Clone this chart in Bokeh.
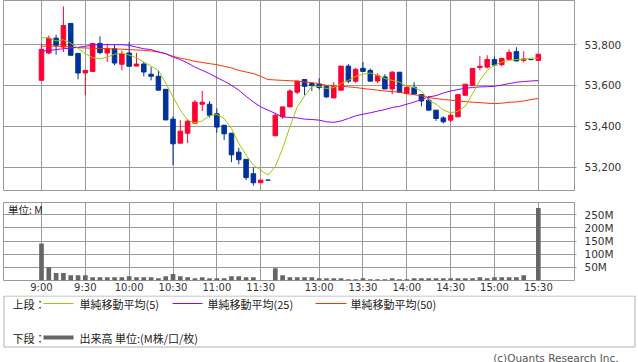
from bokeh.plotting import figure
from bokeh.layouts import column
from bokeh.models import FixedTicker, NumeralTickFormatter, Range1d, ColumnDataSource, BoxAnnotation
from bokeh.core.properties import value
from bokeh.embed import file_html
from bokeh.resources import INLINE

# ---------------- data ----------------
time_ticks = [0, 6, 12, 18, 24, 30, 38, 44, 50, 56, 62, 68]
time_labels = ["9:00", "9:30", "10:00", "10:30", "11:00", "11:30",
               "13:00", "13:30", "14:00", "14:30", "15:00", "15:30"]
price_ticks = [53200, 53400, 53600, 53800]
volume_ticks = [50, 100, 150, 200, 250]
volume_tick_labels = ["50M", "100M", "150M", "200M", "250M"]

opens = [53625, 53759, 53832, 53788, 53904, 53757, 53661, 53669, 53806, 53759,
         53780, 53704, 53759, 53695, 53705, 53655, 53645, 53581, 53435, 53317,
         53366, 53415, 53508, 53508, 53461, 53405, 53366, 53273, 53238, 53167,
         53123, 53136, 53353, 53446, 53495, 53567, 53629, 53609, 53606, 53596,
         53539, 53577, 53695, 53621, 53684, 53674, 53622, 53642, 53583, 53665,
         53560, 53591, 53555, 53528, 53479, 53441, 53430, 53446, 53552, 53601,
         53688, 53690, 53727, 53702, 53728, 53766, 53723, 53727, 53723]
highs = [53805, 53845, 53849, 53987, 53904, 53757, 53674, 53806, 53841, 53805,
         53800, 53772, 53813, 53759, 53715, 53690, 53674, 53581, 53449, 53430,
         53433, 53529, 53573, 53523, 53488, 53405, 53366, 53294, 53238, 53199,
         53136, 53136, 53466, 53495, 53581, 53621, 53629, 53617, 53635, 53596,
         53617, 53695, 53705, 53686, 53715, 53683, 53660, 53655, 53671, 53665,
         53601, 53616, 53555, 53549, 53479, 53449, 53463, 53555, 53606, 53684,
         53744, 53748, 53743, 53736, 53777, 53787, 53767, 53727, 53753]
lows = [53625, 53753, 53751, 53764, 53748, 53630, 53552, 53665, 53753, 53715,
        53699, 53674, 53694, 53695, 53645, 53625, 53577, 53431, 53210, 53317,
        53317, 53415, 53474, 53443, 53368, 53332, 53224, 53213, 53136, 53109,
        53123, 53136, 53353, 53436, 53495, 53557, 53552, 53573, 53580, 53539,
        53539, 53577, 53612, 53612, 53669, 53621, 53612, 53583, 53558, 53567,
        53560, 53558, 53498, 53479, 53426, 53414, 53421, 53446, 53552, 53601,
        53674, 53683, 53700, 53694, 53728, 53720, 53713, 53727, 53723]
closes = [53777, 53832, 53797, 53894, 53748, 53661, 53674, 53806, 53761, 53780,
          53710, 53756, 53694, 53705, 53666, 53645, 53577, 53431, 53314, 53376,
          53425, 53518, 53518, 53454, 53396, 53363, 53260, 53236, 53148, 53123,
          53136, 53136, 53454, 53495, 53573, 53621, 53596, 53600, 53590, 53544,
          53596, 53695, 53621, 53679, 53669, 53621, 53648, 53583, 53665, 53567,
          53591, 53558, 53524, 53479, 53438, 53422, 53454, 53555, 53606, 53684,
          53694, 53727, 53700, 53732, 53762, 53720, 53730, 53727, 53753]

ma5 = [53834, 53834, 53818, 53824, 53808, 53783, 53756, 53736, 53731, 53739,
       53753, 53759, 53749, 53736, 53715, 53695, 53674, 53612, 53544, 53479,
       53430, 53417, 53426, 53451, 53458, 53438, 53389, 53316, 53259, 53210,
       53185, 53161, 53202, 53291, 53397, 53495, 53548, 53596, 53596, 53585,
       53590, 53609, 53625, 53645, 53655, 53661, 53650, 53634, 53625, 53616,
       53596, 53590, 53573, 53528, 53508, 53479, 53466, 53474, 53498, 53560,
       53625, 53674, 53699, 53715, 53723, 53727, 53729, 53734, 53734]
ma25 = [53769, 53771, 53776, 53780, 53783, 53787, 53792, 53797, 53800, 53800,
        53800, 53800, 53797, 53788, 53780, 53776, 53764, 53756, 53739, 53727,
        53710, 53690, 53674, 53658, 53639, 53621, 53601, 53577, 53547, 53519,
        53495, 53479, 53463, 53446, 53443, 53441, 53435, 53433, 53430, 53422,
        53419, 53426, 53438, 53451, 53459, 53466, 53474, 53482, 53492, 53498,
        53508, 53519, 53531, 53544, 53550, 53563, 53573, 53580, 53586, 53590,
        53593, 53594, 53596, 53602, 53609, 53616, 53619, 53622, 53624]
ma50 = [53793, 53793, 53792, 53792, 53788, 53785, 53784, 53782, 53782, 53780,
        53779, 53778, 53776, 53774, 53772, 53769, 53764, 53756, 53743, 53734,
        53727, 53718, 53713, 53707, 53702, 53694, 53686, 53674, 53666, 53658,
        53645, 53629, 53627, 53625, 53623, 53622, 53617, 53614, 53609, 53601,
        53598, 53597, 53593, 53590, 53585, 53581, 53577, 53573, 53570, 53567,
        53560, 53555, 53549, 53541, 53536, 53531, 53528, 53524, 53521, 53518,
        53516, 53513, 53511, 53513, 53518, 53519, 53524, 53531, 53536]

volumes = [141, 50, 28.6, 28.6, 20, 20, 20, 12.5, 12.5, 12.5,
           12.5, 12.5, 16, 12.5, 12.5, 12.5, 8.6, 16, 25, 16,
           12.5, 8.6, 12.5, 8.6, 8.6, 8.6, 16, 16, 12.5, 12.5,
           1, 0, 47, 20, 12.5, 12.5, 12.5, 12.5, 8.6, 8.6,
           8.6, 8.6, 5, 5, 8.6, 5, 5, 5, 8.6, 5,
           5, 8.6, 8.6, 8.6, 8.6, 8.6, 8.6, 8.6, 8.6, 8.6,
           12.5, 8.6, 12.5, 12.5, 12.5, 12.5, 20, 1, 276]

# ---------------- styles ----------------
UP = "#FF0033"
DOWN = "#003399"
C_MA5 = "#99CC00"
C_MA25 = "#9900FF"
C_MA50 = "#FF3300"
C_VOL = "#666666"
GRID = "#999999"
TXT = "#333333"
LAT = "DejaVu Sans"
CJK = "Noto Sans CJK JP"

idx = list(range(len(opens)))
colors = [UP if c > o else DOWN for o, c in zip(opens, closes)]
src = ColumnDataSource(dict(
    x=idx, top=[max(o, c) for o, c in zip(opens, closes)],
    bottom=[min(o, c) for o, c in zip(opens, closes)],
    high=highs, low=lows, color=colors))

x_rng = Range1d(-5.2, 72.95)

# ---------------- price panel ----------------
p1 = figure(width=638, height=196, x_range=x_rng, y_range=Range1d(53085, 54016.6),
            x_axis_location=None, y_axis_location="right",
            output_backend="svg", toolbar_location=None,
            min_border_left=3, min_border_right=64, min_border_top=0, min_border_bottom=6)
p1.outline_line_color = GRID
p1.xgrid.ticker = FixedTicker(ticks=time_ticks)
p1.ygrid.ticker = FixedTicker(ticks=price_ticks)
p1.grid.grid_line_color = GRID
p1.grid.grid_line_alpha = 1.0
ya = p1.yaxis[0]
ya.ticker = FixedTicker(ticks=price_ticks)
ya.formatter = NumeralTickFormatter(format="0,0")
ya.axis_line_color = None
ya.major_tick_out = 2
ya.major_tick_in = 0
ya.major_tick_line_color = GRID
ya.minor_tick_line_color = None
ya.major_label_standoff = 8
ya.major_label_text_font = LAT
ya.major_label_text_font_size = "10.5px"
ya.major_label_text_color = TXT

p1.segment(x0="x", y0="low", x1="x", y1="high", color="color", line_width=1, source=src)
p1.vbar(x="x", top="top", bottom="bottom", width=0.62, fill_color="color",
        line_color="color", line_width=1, source=src)
p1.line(idx, ma50, line_color=C_MA50, line_width=1)
p1.line(idx, ma25, line_color=C_MA25, line_width=1)
p1.line(idx, ma5, line_color=C_MA5, line_width=1)

# ---------------- volume panel ----------------
p2 = figure(width=638, height=99, x_range=x_rng, y_range=Range1d(0, 297),
            y_axis_location="right", output_backend="svg", toolbar_location=None,
            min_border_left=3, min_border_right=64, min_border_top=6, min_border_bottom=14)
p2.outline_line_color = GRID
p2.xgrid.ticker = FixedTicker(ticks=time_ticks)
p2.ygrid.ticker = FixedTicker(ticks=volume_ticks)
p2.grid.grid_line_color = GRID
p2.grid.grid_line_alpha = 1.0
xa = p2.xaxis[0]
xa.ticker = FixedTicker(ticks=time_ticks)
xa.major_label_overrides = {t: l for t, l in zip(time_ticks, time_labels)}
xa.axis_line_color = None
xa.major_tick_out = 0
xa.major_tick_in = 0
xa.minor_tick_line_color = None
xa.major_label_standoff = 1
xa.major_label_text_line_height = 1.0
xa.major_label_text_font = LAT
xa.major_label_text_font_size = "10px"
xa.major_label_text_color = TXT
va = p2.yaxis[0]
va.ticker = FixedTicker(ticks=volume_ticks)
va.major_label_overrides = {t: l for t, l in zip(volume_ticks, volume_tick_labels)}
va.axis_line_color = None
va.major_tick_out = 2
va.major_tick_in = 0
va.major_tick_line_color = GRID
va.minor_tick_line_color = None
va.major_label_standoff = 8
va.major_label_text_font = LAT
va.major_label_text_font_size = "10.5px"
va.major_label_text_color = TXT
p2.vbar(x=idx, top=volumes, bottom=0, width=0.64, fill_color=C_VOL, line_color=None)
p2.text(x=[-4.6], y=[270], text=["単位: M"], text_font=value(CJK), text_font_size="10.5px",
        text_color="#222222", text_baseline="middle", text_align="left")

# ---------------- legend panel ----------------
p3 = figure(width=638, height=67, x_range=Range1d(0, 638), y_range=Range1d(362, 295),
            x_axis_location=None, y_axis_location=None,
            output_backend="svg", toolbar_location=None,
            min_border_left=0, min_border_right=0, min_border_top=0, min_border_bottom=0)
p3.outline_line_color = None
p3.grid.visible = False
p3.add_layout(BoxAnnotation(left=3.5, right=634.5, top=295.5, bottom=346.5,
                            fill_alpha=0, line_color="black", line_width=1))
p3.segment(x0=[43, 172, 315], y0=[303, 303, 303], x1=[73, 202, 346], y1=[303, 303, 303],
           line_color=[C_MA5, C_MA25, C_MA50], line_width=1)
p3.segment(x0=[43], y0=[337], x1=[73], y1=[337], line_color=C_VOL, line_width=4)
p3.text(x=[12, 79, 207, 350], y=[303, 303, 303, 303],
        text=["上段：", "単純移動平均(5)", "単純移動平均(25)", "単純移動平均(50)"],
        text_font=value(CJK), text_font_size="11px", text_color="#222222",
        text_baseline="middle", text_align="left")
p3.text(x=[12, 79], y=[337, 337], text=["下段：", "出来高 単位:(M株/口/枚)"],
        text_font=value(CJK), text_font_size="11px", text_color="#222222",
        text_baseline="middle", text_align="left")
p3.text(x=[618], y=[357], text=["(c)Quants Research Inc."], text_font=value(LAT),
        text_font_size="10.5px", text_color="#555555", text_baseline="middle", text_align="right")

layout = column(column(p1, p2, spacing=0), p3, spacing=0)

open("out.html", "w").write(file_html(layout, INLINE))
